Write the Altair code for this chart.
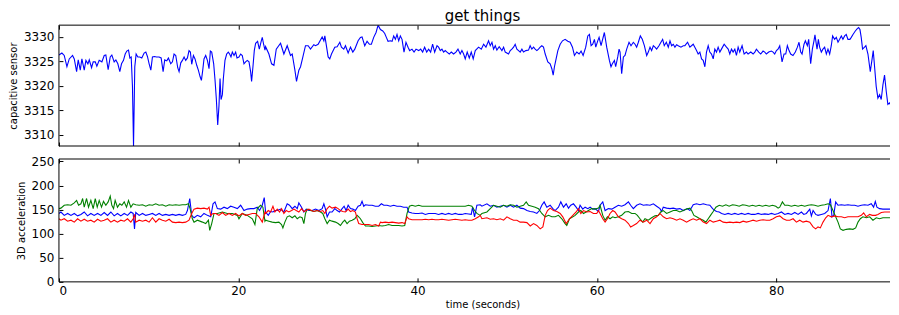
import altair as alt
import pandas as pd

# ---------------- data ----------------
title_text = "get things"
x_title = "time (seconds)"
cap_title = "capacitive sensor"
acc_title = "3D acceleration"

x_ticks = [0, 20, 40, 60, 80]
cap_ticks = [3310, 3315, 3320, 3325, 3330]
acc_ticks = [0, 50, 100, 150, 200, 250]
x_domain = [0, 92.7]          # visible part of the time axis (the figure is cut at the right)
cap_domain = [3307.7, 3332.4]
acc_domain = [0, 255]

# capacitive sensor: (time s, value)
cap_samples = [
    (0.00,3326.3),(0.33,3326.7),(0.59,3326.2),(0.89,3323.9),(1.15,3325.5),(1.52,3326.2),(1.71,3325.5),(1.97,3322.9),
    (2.15,3325.3),(2.38,3323.2),(2.56,3325.5),(2.82,3323.2),(3.01,3325.2),(3.23,3324.5),(3.38,3325.3),(3.64,3323.7),
    (3.82,3324.9),(4.05,3324.9),(4.23,3324.0),(4.49,3325.2),(4.79,3324.9),(5.05,3326.2),(5.23,3326.3),(5.49,3323.3),
    (5.72,3325.9),(5.90,3326.3),(6.16,3324.9),(6.35,3325.3),(6.57,3324.5),(6.79,3322.9),(6.98,3324.5),(7.20,3325.2),
    (7.39,3326.5),(7.57,3327.1),(7.76,3327.3),(7.91,3325.7),(8.06,3325.9),(8.20,3319.9),(8.32,3307.7),(8.46,3323.9),
    (8.61,3326.5),(8.80,3325.9),(9.02,3325.9),(9.24,3325.7),(9.50,3326.7),(9.69,3326.9),(9.87,3326.0),(10.06,3324.5),
    (10.25,3323.2),(10.43,3325.9),(10.65,3326.0),(10.88,3325.9),(11.17,3325.9),(11.40,3325.7),(11.62,3322.9),(11.80,3325.3),
    (12.03,3325.1),(12.21,3325.7),(12.47,3324.5),(12.66,3324.9),(12.84,3326.5),(13.03,3326.2),(13.25,3323.7),(13.40,3322.9),
    (13.59,3324.7),(13.77,3325.2),(13.96,3325.9),(14.14,3325.2),(14.33,3325.7),(14.51,3327.2),(14.66,3326.9),(14.81,3324.4),
    (15.00,3326.2),(15.18,3325.5),(15.37,3324.2),(15.55,3323.2),(15.74,3321.9),(15.89,3321.1),(16.04,3323.2),(16.18,3325.5),
    (16.37,3326.2),(16.56,3325.2),(16.74,3323.5),(16.89,3327.1),(17.04,3326.9),(17.26,3324.5),(17.41,3321.2),(17.56,3317.2),
    (17.71,3312.0),(17.85,3315.9),(17.97,3321.5),(18.08,3317.2),(18.23,3318.2),(18.34,3321.5),(18.52,3325.2),(18.71,3326.5),
    (18.89,3326.9),(19.04,3326.5),(19.19,3325.9),(19.34,3326.9),(19.53,3326.2),(19.71,3326.9),(19.86,3325.7),(20.08,3325.9),
    (20.27,3326.5),(20.45,3326.2),(20.64,3324.5),(20.82,3324.9),(21.01,3325.2),(21.20,3324.9),(21.38,3322.9),(21.49,3320.9),
    (21.64,3323.9),(21.79,3327.2),(21.94,3328.7),(22.16,3329.1),(22.35,3327.5),(22.53,3328.9),(22.68,3329.9),(22.83,3328.5),
    (22.98,3327.3),
    (23.05,3328.0),(23.42,3326.5),(23.72,3324.5),(23.98,3324.2),(24.24,3327.5),(24.72,3328.7),(25.09,3326.5),(25.46,3328.2),
    (25.83,3326.2),(26.02,3326.5),(26.32,3323.2),(26.50,3320.9),(26.76,3323.2),(26.95,3323.9),(27.21,3325.9),(27.50,3328.2),
    (27.80,3328.2),(28.06,3327.5),(28.43,3328.4),(28.62,3328.2),(28.91,3328.5),(29.36,3330.0),(29.55,3329.2),(29.66,3330.2),
    (30.03,3325.9),(30.21,3325.5),(30.40,3326.5),(30.77,3327.9),(31.03,3328.0),(31.33,3328.9),(31.51,3327.9),(31.77,3327.5),
    (31.96,3328.2),(32.26,3326.7),(32.52,3327.9),(32.78,3326.9),(33.00,3327.5),(33.15,3328.2),(33.37,3329.2),(33.63,3329.9),
    (33.81,3330.0),(34.11,3328.2),(34.37,3329.1),(34.63,3328.5),(34.85,3328.5),(35.11,3329.9),(35.37,3330.9),(35.60,3332.4),
    (35.86,3331.5),(36.12,3331.2),(36.34,3330.7),(36.52,3329.9),(36.71,3329.1),(36.97,3329.2),(37.16,3329.1),(37.34,3330.2),
    (37.53,3329.5),(37.71,3330.5),(37.90,3329.2),(38.08,3330.2),(38.27,3329.5),(38.49,3326.9),(38.71,3328.9),(38.94,3327.9),
    (39.12,3327.2),(39.38,3327.5),(39.61,3326.9),(39.83,3327.5),(40.13,3327.2),(40.35,3327.5),(40.57,3326.9),(40.79,3327.9),
    (41.02,3326.9),(41.24,3327.5),(41.46,3326.9),(41.68,3328.5),(41.91,3326.9),(42.17,3328.2),(42.35,3327.9),(42.54,3327.2),
    (42.72,3327.5),(42.91,3326.9),(43.09,3327.2),(43.28,3326.9),(43.54,3326.5),(43.76,3326.9),(44.02,3326.5),(44.28,3326.9),
    (44.51,3327.5),(44.76,3326.5),(44.95,3327.2),(45.14,3326.5),(45.32,3325.5),(45.54,3326.9),(45.77,3325.7),(45.99,3326.9),
    (46.21,3325.5),(46.44,3327.2),
    (46.81,3327.9),(47.11,3327.5),(47.37,3328.5),(47.63,3327.9),(47.92,3329.2),(48.11,3328.2),(48.30,3328.9),(48.48,3327.5),
    (48.67,3328.2),(48.85,3327.3),(49.11,3328.0),(49.41,3327.2),(49.60,3327.9),(49.78,3326.9),(50.15,3326.5),(50.34,3327.2),
    (50.52,3327.5),(50.71,3327.9),(50.89,3328.5),(51.08,3327.5),(51.27,3327.2),(51.45,3326.9),(51.64,3327.5),(51.82,3326.9),
    (52.08,3327.2),(52.38,3327.3),(52.56,3328.2),(52.75,3327.5),(52.94,3327.9),(53.12,3327.5),(53.31,3327.2),(53.49,3327.5),
    (53.68,3327.9),(53.86,3328.2),(54.05,3327.9),(54.24,3326.5),(54.53,3324.9),(54.79,3324.5),(54.98,3323.5),(55.13,3322.2),
    (55.27,3323.9),(55.42,3325.2),(55.65,3327.2),(55.91,3328.5),(56.17,3329.2),(56.46,3329.5),(56.76,3329.1),(57.02,3328.9),
    (57.28,3327.9),(57.50,3326.2),(57.76,3326.9),(58.02,3326.5),(58.24,3327.1),(58.47,3326.2),(58.76,3327.9),(58.99,3330.2),
    (59.17,3330.5),(59.36,3328.2),(59.54,3328.5),(59.73,3329.5),(59.88,3327.9),(60.10,3329.2),(60.25,3329.9),(60.47,3328.2),
    (60.84,3330.9),(61.10,3327.9),(61.40,3325.2),(61.58,3323.9),(61.73,3324.5),(61.96,3325.2),(62.10,3323.9),(62.33,3325.9),
    (62.48,3327.5),(62.59,3326.9),(62.77,3322.5),(62.96,3325.9),(63.14,3326.2),(63.33,3327.5),(63.59,3328.9),(63.81,3328.2),
    (64.07,3328.9),(64.26,3328.5),(64.44,3327.9),(64.63,3328.9),(64.85,3330.2),(65.07,3329.5),(65.30,3328.2),(65.56,3326.2),
    (65.74,3326.9),(65.93,3327.9),(66.11,3327.2),(66.30,3328.2),(66.48,3327.9),(66.67,3327.5),(66.93,3328.2),(67.15,3328.9),
    (67.34,3329.5),(67.52,3328.2),(67.75,3328.9),(67.97,3327.9),(68.16,3329.2),(68.34,3328.2),(68.53,3328.5),(68.71,3327.9),
    (68.90,3328.4),(69.08,3328.2),(69.38,3327.9),(69.64,3328.2),
    (69.82,3328.2),(70.12,3328.9),(70.38,3327.9),(70.75,3328.5),(70.93,3327.9),(71.12,3327.2),(71.30,3326.5),(71.49,3326.9),
    (71.68,3325.5),(71.86,3325.2),(72.05,3323.9),(72.23,3326.9),(72.42,3328.2),(72.60,3326.9),(72.79,3326.5),(72.98,3325.5),
    (73.16,3327.5),(73.35,3326.9),(73.53,3327.9),(73.72,3326.9),(73.90,3327.5),(74.20,3328.5),(74.46,3327.9),(74.65,3327.5),
    (74.83,3326.5),(75.02,3327.5),(75.20,3326.9),(75.39,3327.5),(75.57,3326.2),(75.76,3327.9),(75.94,3326.9),(76.20,3328.2),
    (76.43,3326.5),(76.69,3326.9),(76.87,3326.5),(77.17,3326.9),(77.43,3326.5),(77.62,3326.9),(77.80,3327.5),(78.06,3326.9),
    (78.28,3326.5),(78.54,3327.1),(78.73,3326.9),(78.91,3326.5),(79.17,3326.9),(79.47,3327.1),(79.66,3326.9),(79.84,3326.5),
    (80.03,3327.2),(80.21,3327.5),(80.40,3328.2),(80.66,3324.9),(80.88,3326.5),(81.07,3326.5),(81.25,3328.2),(81.44,3327.2),
    (81.62,3326.5),(81.88,3326.2),(82.14,3326.9),(82.37,3327.9),(82.55,3328.9),(82.74,3326.9),(82.89,3326.5),(83.11,3328.5),
    (83.26,3329.2),(83.48,3328.2),(83.63,3329.5),(83.85,3324.5),(84.04,3327.5),(84.22,3329.2),(84.33,3330.4),(84.56,3327.5),
    (84.71,3329.5),(84.85,3327.9),(85.04,3326.9),(85.22,3327.5),(85.41,3327.9),(85.60,3326.5),(85.78,3327.5),(85.97,3326.5),
    (86.15,3328.2),(86.30,3330.2),(86.52,3329.5),(86.71,3329.9),(86.90,3328.9),(87.08,3329.5),(87.27,3330.2),(87.45,3329.5),
    (87.64,3330.2),(87.82,3330.5),(88.01,3329.5),(88.23,3329.5),(88.38,3329.9),(88.57,3330.5),(88.83,3331.2),(89.05,3331.7),
    (89.20,3331.9),(89.35,3331.5),(89.49,3329.9),(89.64,3327.5),(89.86,3327.9),(90.01,3328.2),(90.24,3326.5),(90.50,3322.9),
    (90.68,3325.2),(90.83,3327.2),(90.98,3323.9),(91.16,3319.9),(91.35,3317.5),(91.54,3318.2),(91.72,3317.2),(91.91,3320.2),
    (92.09,3322.2),(92.28,3318.9),(92.46,3316.2),(92.65,3316.5),(92.83,3315.9),(93.02,3315.2),(93.21,3314.7),(93.39,3316.2),
    (93.65,3316.9),
]

# 3D acceleration, blue trace
acc_x_samples = [
    (0.00,142),(0.22,145),(0.59,138),(0.97,142),(1.34,138),(1.71,142),(2.08,137),(2.45,140),(2.82,145),(3.19,137),
    (3.56,142),(3.93,138),(4.31,142),(4.68,138),(5.05,144),(5.42,138),(5.79,145),(6.16,137),(6.53,142),(6.90,137),
    (7.28,142),(7.65,138),(8.02,145),(8.28,142),(8.43,110),(8.57,144),(8.95,138),(9.32,142),(9.69,138),(10.06,140),
    (10.43,142),(10.80,138),(11.17,142),(11.54,138),(11.92,140),(12.29,138),(12.66,140),(13.03,138),(13.40,140),(13.77,138),
    (14.14,140),(14.33,148),(14.59,173),(14.81,138),(15.07,133),(15.44,138),(15.81,135),(16.18,142),(16.56,138),(16.93,135),
    (17.19,162),(17.41,166),(17.67,152),(18.04,151),(18.41,155),(18.78,152),(19.15,157),(19.52,155),(19.90,152),(20.27,159),
    (20.64,148),(21.01,151),(21.38,152),(21.75,152),(22.12,155),(22.38,148),(22.68,159),(22.90,175),
    (23.05,145),(23.35,138),(23.61,146),(23.87,145),(24.09,148),(24.35,148),(24.72,151),(25.09,145),(25.46,162),(25.72,159),
    (26.02,152),(26.32,157),(26.58,152),(26.76,164),(27.06,155),(27.32,145),(27.58,151),(27.88,148),(28.25,148),(28.62,151),
    (28.99,148),(29.36,152),(29.55,162),(29.73,151),(29.92,135),(30.18,145),(30.47,145),(30.77,152),(31.03,148),(31.29,145),
    (31.59,152),(31.81,157),(32.03,148),(32.26,159),(32.52,152),(32.78,151),(33.07,148),(33.37,157),(33.63,159),(33.81,167),
    (34.00,157),(34.19,160),(34.56,159),(34.93,159),(35.30,157),(35.67,157),(35.97,162),(36.23,159),(36.60,159),(36.97,157),
    (37.34,159),(37.71,157),(38.08,157),(38.45,155),(38.83,155),(39.01,145),(39.38,143),(39.75,142),(40.12,142),(40.50,143),
    (40.87,140),(41.24,142),(41.61,142),(41.98,142),(42.35,140),(42.72,142),(43.09,140),(43.47,142),(43.84,140),(44.21,142),
    (44.58,140),(44.95,140),(45.32,142),(45.69,141),(45.99,140),(46.14,155),(46.36,135),(46.62,159),(46.99,160),
    (47.18,157),(47.74,162),(48.11,157),(48.48,159),(48.85,155),(49.23,157),(49.60,159),(49.97,155),(50.34,159),(50.71,155),
    (51.08,159),(51.45,153),(51.82,152),(52.20,148),(52.57,146),(52.94,145),(53.31,142),(53.60,148),(53.86,159),(54.12,166),
    (54.42,155),(54.79,159),(55.09,152),(55.35,148),(55.72,155),(55.98,166),(56.28,155),(56.58,162),(56.84,153),(57.09,159),
    (57.39,162),(57.69,155),(57.95,148),(58.13,159),(58.43,151),(58.69,155),(58.99,152),(59.25,155),(59.54,151),(59.80,152),
    (60.18,146),
    (60.36,159),(60.66,166),(60.92,148),(61.29,152),(61.66,151),(62.03,155),(62.40,159),(62.77,157),(63.14,160),(63.52,166),
    (63.77,159),(64.07,152),(64.44,159),(64.81,162),(65.19,159),(65.56,160),(65.93,159),(66.30,162),(66.67,157),(67.04,152),
    (67.23,146),(67.41,155),(67.78,153),(68.16,152),(68.53,153),(68.90,151),(69.27,152),(69.64,148),(70.09,152),(70.38,148),
    (70.75,160),(71.12,162),(71.50,160),(71.87,162),(72.24,160),(72.61,159),(72.91,152),(73.17,148),(73.35,146),(73.65,145),
    (73.91,142),(74.28,140),(74.65,142),(75.02,140),(75.39,142),(75.76,140),(76.14,142),(76.51,140),(76.88,142),(77.25,140),
    (77.62,140),(77.99,142),(78.36,140),(78.73,141),(79.11,140),(79.48,142),(79.85,140),(80.22,142),(80.59,145),(80.96,140),
    (81.33,142),(81.70,140),(82.08,144),(82.45,140),(82.82,145),(83.08,140),(83.37,142),(83.75,151),(83.93,137),(84.12,148),
    (84.41,140),(84.67,138),(85.04,140),(85.42,142),(85.79,148),(86.05,173),(86.23,135),(86.42,138),(86.64,166),(86.90,159),
    (87.27,160),(87.64,159),(88.01,160),(88.38,159),(88.76,159),(89.13,157),(89.50,159),(89.87,160),(90.24,159),(90.61,162),
    (90.87,155),(91.06,167),(91.24,155),(91.54,152),(91.91,151),(92.28,151),(92.65,151),(93.03,151),(93.66,151),
]

# 3D acceleration, green trace
acc_y_samples = [
    (0.00,152),(0.22,153),(0.59,159),(0.97,160),(1.34,159),(1.71,164),(1.97,169),(2.19,159),(2.45,162),(2.64,173),
    (2.82,155),(3.08,173),(3.30,155),(3.56,169),(3.82,152),(4.05,173),(4.27,155),(4.49,169),(4.75,155),(4.97,167),
    (5.23,159),(5.49,166),(5.72,178),(5.90,159),(6.09,152),(6.27,169),(6.53,155),(6.79,162),(7.02,159),(7.28,166),
    (7.54,155),(7.76,169),(8.02,155),(8.28,162),(8.57,160),(8.95,159),(9.32,160),(9.69,157),(10.06,160),(10.43,159),
    (10.80,162),(11.17,159),(11.54,160),(11.92,157),(12.29,160),(12.66,159),(13.03,160),(13.40,159),(13.77,160),(14.14,160),
    (14.44,162),(14.63,152),(14.88,131),(15.07,124),(15.44,128),(16.00,124),(16.37,121),(16.67,128),(16.82,107),(17.04,121),
    (17.30,142),(17.67,142),(18.23,145),(18.78,142),(19.34,142),(19.90,138),(20.08,131),(20.45,142),(21.01,138),(21.57,131),
    (21.86,119),(22.12,152),(22.49,159),(22.75,155),(22.98,126),
    (23.05,128),(23.42,126),(23.79,124),(24.16,123),(24.53,124),(24.83,119),(24.98,112),(25.20,124),(25.46,135),(25.72,137),
    (26.02,133),(26.32,137),(26.58,131),(26.87,135),(27.13,133),(27.32,121),(27.50,142),(27.69,151),(28.06,148),(28.43,146),
    (28.80,148),(29.17,145),(29.43,142),(29.66,131),(29.92,121),(30.18,128),(30.47,126),(30.85,124),(31.14,121),(31.40,117),
    (31.66,124),(31.88,128),(32.14,121),(32.40,126),(32.70,128),(33.00,131),(33.15,135),(33.26,138),(33.44,135),(33.63,131),
    (33.89,123),(34.19,116),(34.56,116),(34.93,115),(35.30,116),(35.67,117),(36.04,116),(36.41,117),(36.78,119),(37.16,117),
    (37.53,117),(37.90,117),(38.27,116),(38.57,117),(38.83,142),(39.09,157),(39.38,159),(39.75,157),(40.12,159),(40.50,157),
    (40.87,157),(41.24,157),(41.61,157),(41.98,157),(42.35,157),(42.72,157),(43.09,157),(43.47,157),(43.84,157),(44.21,157),
    (44.58,157),(44.95,157),(45.32,157),(45.69,159),(46.06,157),(46.36,148),(46.62,142),(46.99,138),
    (47.18,142),(47.74,145),(48.11,152),(48.48,159),(48.85,157),(49.23,155),(49.60,159),(49.97,157),(50.34,160),(50.71,159),
    (51.08,155),(51.45,157),(51.82,159),(52.12,166),(52.38,159),(52.75,157),(53.12,155),(53.49,152),(53.86,142),(54.24,135),
    (54.61,138),(54.98,135),(55.35,135),(55.72,138),(56.09,131),(56.46,121),(56.65,117),(56.95,131),(57.32,135),(57.58,138),
    (57.95,145),(58.21,148),(58.51,142),(58.80,145),(59.06,148),(59.43,152),(59.80,151),(60.18,153),
    (60.36,159),(60.66,138),(60.92,128),(61.18,135),(61.47,131),(61.77,135),(62.03,133),(62.40,135),(62.77,138),(63.14,145),
    (63.52,146),(63.89,142),(64.26,142),(64.52,138),(64.81,131),(65.11,124),(65.37,131),(65.74,128),(66.11,133),(66.48,137),
    (66.86,138),(67.12,145),(67.41,148),(67.78,142),(68.16,145),(68.53,148),(68.90,148),(69.27,145),(69.64,148),(70.01,151),
    (70.38,153),(70.57,148),(70.83,138),(71.12,135),(71.50,131),(71.87,128),(72.16,124),(72.42,131),(72.68,138),(72.98,146),
    (73.28,155),(73.65,159),(74.02,157),(74.39,160),(74.76,157),(75.13,160),(75.50,159),(75.88,157),(76.25,160),(76.62,159),
    (76.99,157),(77.36,159),(77.73,157),(78.10,159),(78.47,157),(78.84,159),(79.22,157),(79.59,159),(79.96,157),(80.22,153),
    (80.40,155),(80.70,166),(80.96,159),(81.33,159),(81.70,157),(82.08,159),(82.45,157),(82.82,159),(83.19,157),(83.56,159),
    (83.93,160),(84.30,159),(84.67,157),(85.04,159),(85.42,160),(85.79,162),(86.05,160),(86.34,148),(86.64,135),(86.90,124),
    (87.16,110),(87.46,107),(87.83,109),(88.20,110),(88.57,109),(88.87,112),(89.13,124),(89.39,131),(89.68,135),(90.06,133),
    (90.43,135),(90.80,128),(91.17,133),(91.54,131),(91.91,133),(92.28,133),(92.65,133),(93.03,133),(93.66,133),
]

# 3D acceleration, red trace
acc_z_samples = [
    (0.00,131),(0.22,128),(0.59,131),(0.97,126),(1.34,128),(1.71,124),(2.08,131),(2.45,126),(2.82,130),(3.19,126),
    (3.56,128),(3.93,124),(4.31,130),(4.68,126),(5.05,128),(5.42,131),(5.79,124),(6.16,128),(6.53,124),(6.90,128),
    (7.28,126),(7.65,131),(8.02,124),(8.28,131),(8.43,140),(8.57,124),(8.95,128),(9.32,126),(9.69,128),(10.06,124),
    (10.43,133),(10.80,124),(11.17,131),(11.54,128),(11.92,126),(12.29,130),(12.66,124),(13.03,123),(13.40,124),(13.77,123),
    (14.14,124),(14.51,128),(14.81,142),(15.07,151),(15.44,153),(15.81,152),(16.18,153),(16.56,151),(16.74,155),(16.93,138),
    (17.19,142),(17.48,142),(17.85,138),(18.23,144),(18.60,138),(18.97,142),(19.34,138),(19.71,142),(20.08,137),(20.45,142),
    (20.82,138),(21.20,140),(21.57,142),(21.94,142),(22.31,135),(22.68,124),(22.98,145),
    (23.05,142),(23.35,148),(23.61,145),(23.87,157),(24.09,145),(24.35,151),(24.61,145),(24.83,152),(25.09,142),(25.35,148),
    (25.65,145),(25.95,148),(26.21,151),(26.47,148),(26.76,145),(27.06,152),(27.32,146),(27.58,148),(27.88,151),(28.17,148),
    (28.43,146),(28.80,148),(29.17,146),(29.43,148),(29.66,142),(29.92,152),(30.18,157),(30.47,153),(30.85,155),(31.14,152),
    (31.40,148),(31.66,146),(31.96,145),(32.26,151),(32.52,146),(32.78,148),(33.07,145),(33.26,131),(33.44,121),(33.81,119),
    (34.19,119),(34.56,119),(34.93,117),(35.30,119),(35.67,116),(35.86,124),(36.04,123),(36.41,124),(36.78,123),(37.16,124),
    (37.53,123),(37.90,122),(38.27,123),(38.57,121),(38.83,135),(39.01,131),(39.38,129),(39.75,129),(40.12,129),(40.50,129),
    (40.87,130),(41.24,129),(41.61,130),(41.98,129),(42.35,129),(42.72,130),(43.09,129),(43.47,128),(43.84,129),(44.21,130),
    (44.58,129),(44.95,128),(45.32,129),(45.69,128),(46.06,128),(46.44,131),(46.81,135),(46.99,138),
    (47.18,131),(47.74,133),(48.11,130),(48.48,131),(48.85,129),(49.23,131),(49.60,128),(49.97,135),(50.34,131),(50.71,128),
    (51.08,128),(51.45,124),(51.82,124),(52.20,123),(52.57,116),(52.94,121),(53.31,117),(53.68,110),(53.98,114),(54.24,138),
    (54.50,148),(54.79,153),(55.16,148),(55.54,146),(55.91,142),(56.20,135),(56.58,121),(56.95,131),(57.32,138),(57.69,145),
    (57.95,152),(58.21,142),(58.51,148),(58.88,145),(59.25,146),(59.62,142),(59.99,142),(60.18,148),
    (60.36,142),(60.66,131),(60.92,124),(61.18,131),(61.47,142),(61.77,148),(62.03,145),(62.40,135),(62.77,131),(63.14,128),
    (63.52,121),(63.77,114),(64.07,117),(64.44,121),(64.81,128),(65.19,124),(65.56,128),(65.93,121),(66.30,131),(66.67,135),
    (67.04,142),(67.41,135),(67.78,131),(68.16,133),(68.53,131),(68.90,128),(69.27,131),(69.64,128),(70.01,124),(70.38,128),
    (70.75,131),(71.12,128),(71.50,131),(71.87,124),(72.24,121),(72.61,128),(72.98,124),(73.35,126),(73.72,128),(74.09,124),
    (74.47,123),(74.84,124),(75.21,123),(75.58,124),(75.95,123),(76.32,126),(76.69,124),(77.06,126),(77.43,128),(77.81,126),
    (78.18,128),(78.55,129),(78.92,128),(79.29,128),(79.66,131),(80.03,135),(80.40,137),(80.78,131),(81.15,128),(81.52,128),
    (81.89,131),(82.26,124),(82.63,128),(83.00,124),(83.37,126),(83.75,124),(84.12,114),(84.41,110),(84.67,114),(84.93,112),
    (85.23,124),(85.53,133),(85.79,138),(86.16,135),(86.53,137),(86.90,135),(87.27,135),(87.64,133),(88.01,135),(88.38,135),
    (88.76,135),(89.13,135),(89.50,138),(89.76,143),(90.06,135),(90.43,140),(90.72,138),(91.09,138),(91.35,140),(91.73,144),
    (92.10,145),(92.65,145),(93.66,145),
]

series_names = ["x", "y", "z"]
series_colors = ["#0000ff", "#008000", "#ff0000"]

# ---------------- build tables ----------------
cap_df = pd.DataFrame(cap_samples, columns=["t", "v"])
frames = []
for name, samples in zip(series_names, [acc_x_samples, acc_y_samples, acc_z_samples]):
    d = pd.DataFrame(samples, columns=["t", "v"])
    d["axis"] = name
    frames.append(d)
acc_df = pd.concat(frames, ignore_index=True)

FONT = "DejaVu Sans"
W = 832
H_TOP = 121
H_BOTTOM = 123
TICK = 4

x_scale = alt.Scale(domain=x_domain, nice=False, zero=False)


def x_bottom_axis(show_labels):
    if show_labels:
        return alt.Axis(orient="bottom", values=x_ticks, labels=True, title=x_title,
                        domain=False, grid=False, tickSize=TICK, offset=-TICK,
                        labelPadding=4, titlePadding=3, titleX=424)
    return alt.Axis(orient="bottom", values=x_ticks, labels=False, title=None,
                    domain=False, grid=False, tickSize=TICK, offset=-TICK)


x_top_axis = alt.Axis(orient="top", values=x_ticks, labels=False, title=None,
                      domain=False, grid=False, tickSize=TICK, offset=-TICK)


def y_left_axis(ticks, title):
    return alt.Axis(orient="left", values=ticks, title=title, format="d", domain=False,
                    grid=False, tickSize=TICK, offset=-TICK, labelPadding=5,
                    titlePadding=5)


def frame_layers(y_domain):
    """Box around the panel (left, top, bottom edges) with inward ticks on the top edge."""
    ys = alt.Scale(domain=y_domain, nice=False, zero=False)
    fd = pd.DataFrame({"x0": [x_domain[0]], "x1": [x_domain[1]],
                       "y0": [y_domain[0]], "y1": [y_domain[1]]})
    base = alt.Chart(fd).mark_rule(color="black", strokeWidth=1)
    top_edge = base.encode(
        x=alt.X("x0:Q", scale=x_scale, axis=x_top_axis), x2="x1:Q",
        y=alt.Y("y1:Q", scale=ys, axis=None),
    )
    bottom_edge = base.encode(
        x=alt.X("x0:Q", scale=x_scale, axis=None), x2="x1:Q",
        y=alt.Y("y0:Q", scale=ys, axis=None),
    )
    left_edge = base.encode(
        x=alt.X("x0:Q", scale=x_scale, axis=None),
        y=alt.Y("y0:Q", scale=ys, axis=None), y2="y1:Q",
    )
    return [top_edge, bottom_edge, left_edge]


# top panel
cap_main = alt.Chart(cap_df).mark_line(color="#0000ff", strokeWidth=1.1, clip=True).encode(
    x=alt.X("t:Q", scale=x_scale, axis=x_bottom_axis(False)),
    y=alt.Y("v:Q", scale=alt.Scale(domain=cap_domain, nice=False, zero=False),
            axis=y_left_axis(cap_ticks, cap_title)),
)
top = (
    alt.layer(cap_main, *frame_layers(cap_domain))
    .resolve_axis(x="independent", y="independent")
    .properties(
        width=W, height=H_TOP,
        title=alt.TitleParams(title_text, fontSize=15, font=FONT, fontWeight="normal",
                              anchor="middle", color="black", offset=1, dx=8),
    )
)

# bottom panel
color_scale = alt.Scale(domain=series_names, range=series_colors)
acc_main = alt.Chart(acc_df).mark_line(strokeWidth=1.1, clip=True).encode(
    x=alt.X("t:Q", scale=x_scale, axis=x_bottom_axis(True)),
    y=alt.Y("v:Q", scale=alt.Scale(domain=acc_domain, nice=False, zero=False),
            axis=y_left_axis(acc_ticks, acc_title)),
    color=alt.Color("axis:N", scale=color_scale, legend=None),
    detail="axis:N",
)
bottom = (
    alt.layer(acc_main, *frame_layers(acc_domain))
    .resolve_axis(x="independent", y="independent")
    .properties(width=W, height=H_BOTTOM)
)

chart = (
    alt.vconcat(top, bottom, spacing=8)
    .properties(padding={"left": 0, "top": 0, "right": 0, "bottom": 0}, background="white")
    .configure_view(stroke="transparent", strokeWidth=0)
    .configure_axis(
        labelFont=FONT, titleFont=FONT, labelFontSize=12, titleFontSize=10,
        titleFontWeight="normal", labelColor="black", titleColor="black",
        tickColor="black", tickWidth=1,
    )
    .configure_title(font=FONT)
)

chart.save("out.html", embed_options={"renderer": "svg", "actions": False})
